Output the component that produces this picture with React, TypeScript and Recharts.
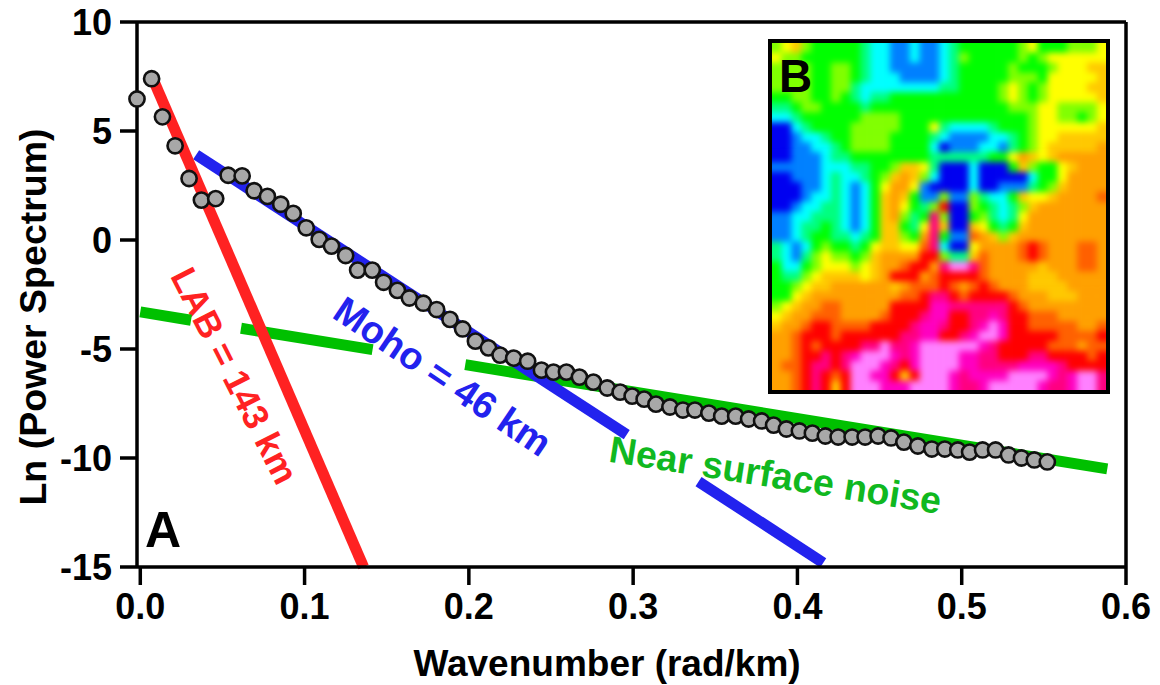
import React from "react";
import { ComposedChart, ScatterChart, Scatter, Line, XAxis, YAxis, ReferenceLine } from "recharts";

const FONT = "'Liberation Sans', Arial, sans-serif";

// Measured spectrum
const waveNumber = [-0.002,0.0069,0.0135,0.0212,0.0297,0.0372,0.0459,0.0535,0.062,0.0693,0.0774,0.0855,0.0931,0.101,0.1089,0.1164,0.125,0.1323,0.1412,0.1481,0.1565,0.1638,0.1723,0.1804,0.1885,0.1962,0.204,0.2119,0.219,0.2273,0.2358,0.2442,0.2515,0.2594,0.2673,0.2758,0.2842,0.2921,0.2994,0.3067,0.3139,0.3224,0.3303,0.3376,0.3461,0.3539,0.3624,0.3703,0.3782,0.3855,0.3933,0.4012,0.4091,0.417,0.4248,0.4333,0.4412,0.4491,0.457,0.4648,0.4733,0.4818,0.4897,0.4976,0.5048,0.5127,0.5206,0.5285,0.5364,0.5442,0.5521];
const lnPower = [6.47,7.4,5.65,4.32,2.82,1.83,1.9,2.97,2.94,2.26,2.0,1.64,1.22,0.56,0.03,-0.28,-0.71,-1.38,-1.38,-1.94,-2.31,-2.66,-2.9,-3.19,-3.64,-4.08,-4.64,-4.95,-5.28,-5.42,-5.56,-5.97,-6.06,-6.06,-6.29,-6.52,-6.79,-6.98,-7.16,-7.3,-7.53,-7.66,-7.8,-7.8,-7.94,-8.08,-8.08,-8.21,-8.3,-8.49,-8.67,-8.76,-8.86,-8.99,-9.04,-9.04,-9.04,-8.99,-9.08,-9.27,-9.45,-9.59,-9.59,-9.63,-9.73,-9.63,-9.63,-9.86,-10.0,-10.09,-10.18];

// Fitted slopes (the gaps leave room for the labels)
const labLine = [{ x: 0.0079, y: 7.35 }, { x: 0.1359, y: -15 }];
const mohoA = [{ x: 0.034, y: 3.91 }, { x: 0.2961, y: -8.93 }];
const mohoB = [{ x: 0.3398, y: -11.08 }, { x: 0.4157, y: -14.81 }];
const noiseA = [{ x: 0, y: -3.3 }, { x: 0.0309, y: -3.68 }];
const noiseB = [{ x: 0.0613, y: -4.05 }, { x: 0.1414, y: -5.03 }];
const noiseC = [{ x: 0.1978, y: -5.72 }, { x: 0.5886, y: -10.5 }];

const xTicks = [0, 0.1, 0.2, 0.3, 0.4, 0.5, 0.6];
const yTicks = [-15, -10, -5, 0, 5, 10];

// Inset map: one level character per cell, row by row
const heatRows = [
  "5675444443221121123444444564445556",
  "6554444443221121123544444545666666",
  "5555445543221111123444445444566677",
  "5555445543222111123444445554666667",
  "5555445532222222233444456545666677",
  "4455445432334444444444456545666667",
  "3345544443444444444444445556655556",
  "2234444445555444444444444456655456",
  "0023444455555444632222344456666667",
  "0012234455554444321111223456677777",
  "0011223455554444201112213456777778",
  "0011123344444444333333446876788888",
  "1111122233445776300020004754467888",
  "0011123223457875200020000024468888",
  "0001123212468861000020011134578888",
  "0001223212478741151153224766788889",
  "00122332124786435a0054323578888888",
  "1122333212478534b50045323688888888",
  "1123343212477436b70076434788888888",
  "1123443323477548b41198757888888888",
  "3212454434677669b200688889a9888998",
  "321356554578888aa533798889a9888998",
  "42245666567889aa8bddb9888887888998",
  "433567777678aaa89aaaa9888877788888",
  "44567788888878999a989a988877778888",
  "446788888888899abba9aaaa9888777888",
  "567889988888aaaaccbbbbbba988888888",
  "678899988889aaabccaabbcbaa99988888",
  "7889aa9999aaaabccbaabcdcaa99999889",
  "889aaa9aaaaaabbccaabcddcaaaaa9999a",
  "889a9aaaabbdbbcddddddcbaaaaa999899",
  "889aababcdddcbcddddccbbaaabbaaaa9a",
  "899abbabdddcbacddddccbbbbccccbaaaa",
  "889aba9addcca7adddcbccccddddcbcddb",
  "889aba7adddcccddddcbbcdddddcbbcddb",
];
const heatLevels = "0123456789abcd";
const heatColors = ["#0000f0","#0080ff","#00ffff","#00ff80","#00ff00","#80ff00","#ffff00","#ffc800","#ffa000","#ff6000","#ff0000","#ff0080","#ff00c0","#ff80ff"];

const spectrum = waveNumber.map((x, i) => ({ x, y: lnPower[i] }));
const cols = 34;
const heatCells = heatRows.flatMap((row, r) =>
  row.split("").map((ch, c) => ({ col: c + 0.5, row: r + 0.5, color: heatColors[heatLevels.indexOf(ch)] }))
);

const Dot = (p: any) => <circle cx={p.cx} cy={p.cy} r={7.6} fill="#a8a8a8" stroke="#111" strokeWidth={2.6} />;

const HeatCell = (p: any) => {
  const w = 335 / cols;
  const h = 348 / heatRows.length;
  let x = p.cx - w / 2 - 0.3;
  let y = p.cy - h / 2 - 0.3;
  let cw = w + 0.6;
  let ch = h + 0.6;
  if (p.payload.col < 1) { x -= 12; cw += 12; }
  if (p.payload.col > cols - 1) { cw += 12; }
  if (p.payload.row < 1) { y -= 12; ch += 12; }
  if (p.payload.row > heatRows.length - 1) { ch += 12; }
  return <rect x={x} y={y} width={cw} height={ch} fill={p.payload.color} />;
};

const tickStyle = { fontFamily: FONT, fontWeight: 700, fontSize: 36, fill: "#000" };
const labelStyle = { fontFamily: FONT, fontWeight: 700 };

export default function App() {
  return (
    <div style={{ position: "absolute", left: 0, top: 0, width: 1160, height: 685, background: "#fff", overflow: "hidden" }}>
      <ComposedChart width={1160} height={685} margin={{ top: 22, right: 34, bottom: 0, left: 0 }}>
        <XAxis
          type="number"
          dataKey="x"
          domain={[0, 0.6]}
          ticks={xTicks}
          tickFormatter={(v: number) => v.toFixed(1)}
          tick={tickStyle}
          tickSize={18}
          tickMargin={8}
          height={118}
          interval={0}
          axisLine={{ stroke: "#000", strokeWidth: 3.5 }}
          tickLine={{ stroke: "#000", strokeWidth: 3.5 }}
        />
        <YAxis
          type="number"
          dataKey="y"
          domain={[-15, 10]}
          ticks={yTicks}
          tick={tickStyle}
          tickSize={17}
          tickMargin={8}
          width={137}
          interval={0}
          axisLine={{ stroke: "#000", strokeWidth: 3.5 }}
          tickLine={{ stroke: "#000", strokeWidth: 3.5 }}
        />
        <ReferenceLine y={10} stroke="#000" strokeWidth={3.5} />
        <ReferenceLine x={0.6} stroke="#000" strokeWidth={3.5} />
        <Line data={noiseA} dataKey="y" stroke="#00c000" strokeWidth={11} dot={false} isAnimationActive={false} />
        <Line data={noiseB} dataKey="y" stroke="#00c000" strokeWidth={11} dot={false} isAnimationActive={false} />
        <Line data={noiseC} dataKey="y" stroke="#00c000" strokeWidth={11} dot={false} isAnimationActive={false} />
        <Line data={mohoA} dataKey="y" stroke="#2222ee" strokeWidth={11} dot={false} isAnimationActive={false} />
        <Line data={mohoB} dataKey="y" stroke="#2222ee" strokeWidth={11} dot={false} isAnimationActive={false} />
        <Line data={labLine} dataKey="y" stroke="#ff2222" strokeWidth={11} dot={false} isAnimationActive={false} />
        <Scatter data={spectrum} dataKey="y" shape={Dot} isAnimationActive={false} />
        <text x={607} y={676} textAnchor="middle" fontSize={37} fill="#000" style={labelStyle}>Wavenumber (rad/km)</text>
        <text transform="translate(46 317) rotate(-90)" textAnchor="middle" fontSize={37.5} fill="#000" style={labelStyle}>Ln (Power Spectrum)</text>
        <text x={145} y={547} fontSize={50} fill="#000" style={labelStyle}>A</text>
        <text transform="translate(232 377) rotate(63)" textAnchor="middle" dominantBaseline="middle" fontSize={36} fill="#ff2222" style={labelStyle}>LAB = 143 km</text>
        <text transform="translate(441 379) rotate(34)" textAnchor="middle" dominantBaseline="middle" fontSize={38} fill="#2222ee" style={labelStyle}>Moho = 46 km</text>
        <text transform="translate(775 478) rotate(9)" textAnchor="middle" dominantBaseline="middle" fontSize={37.5} fill="#10b820" style={labelStyle}>Near surface noise</text>
      </ComposedChart>

      <div style={{ position: "absolute", left: 771.5, top: 42.5, width: 335, height: 348, overflow: "hidden" }}>
        <div style={{ position: "absolute", left: -12, top: -12, width: 359, height: 372, filter: "blur(3px)" }}>
          <ScatterChart width={359} height={372} margin={{ top: 12, right: 12, bottom: 12, left: 12 }}>
            <XAxis type="number" dataKey="col" domain={[0, cols]} hide />
            <YAxis type="number" dataKey="row" domain={[0, heatRows.length]} reversed hide />
            <Scatter data={heatCells} shape={HeatCell} isAnimationActive={false} />
          </ScatterChart>
        </div>
      </div>
      <div style={{ position: "absolute", left: 768, top: 39, width: 334, height: 347, border: "4px solid #000", boxSizing: "content-box" }} />
      <div style={{ position: "absolute", left: 779, top: 51, fontFamily: FONT, fontWeight: 700, fontSize: 46, lineHeight: "50px", color: "#000" }}>B</div>
    </div>
  );
}
